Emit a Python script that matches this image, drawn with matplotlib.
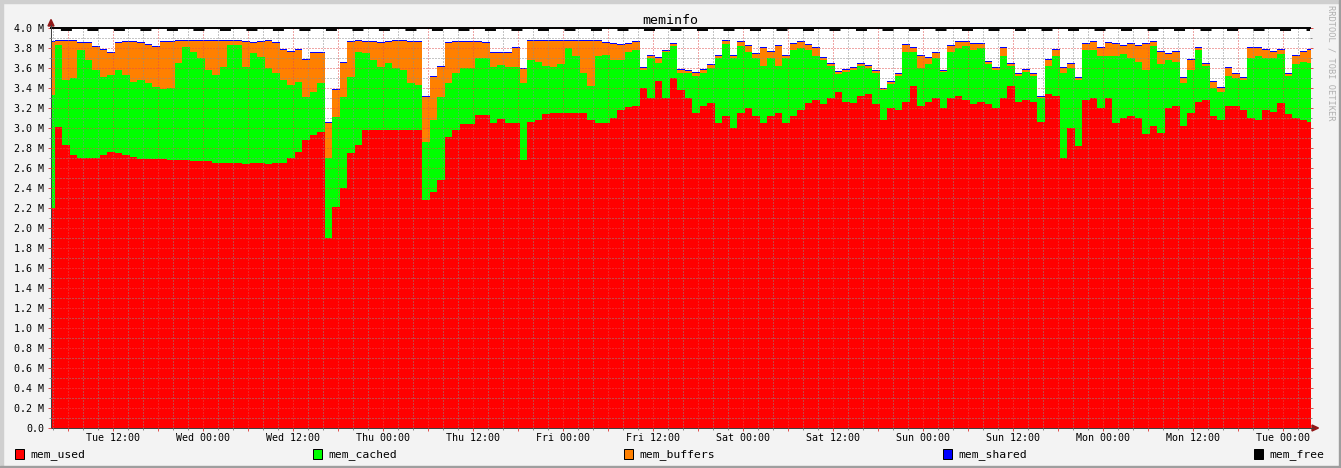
import numpy as np
import matplotlib
matplotlib.use("Agg")
import matplotlib.pyplot as plt
from matplotlib.ticker import MultipleLocator, FuncFormatter
from matplotlib.patches import Rectangle, Polygon
from matplotlib.lines import Line2D

plt.rcParams['font.family'] = 'DejaVu Sans Mono'

W, H = 1341, 468

# one sample per hour, hours counted from Tue 00:00
start_hour = 3.73

mem_used = [
    2.20, 3.01, 2.83, 2.73, 2.70, 2.70, 2.70, 2.73, 2.76, 2.75,
    2.73, 2.71, 2.69, 2.69, 2.69, 2.69, 2.68, 2.68, 2.68, 2.67,
    2.67, 2.67, 2.65, 2.65, 2.65, 2.65, 2.64, 2.65, 2.65, 2.64,
    2.65, 2.65, 2.70, 2.76, 2.88, 2.93, 2.96, 1.90, 2.21, 2.40,
    2.75, 2.83, 2.98, 2.98, 2.98, 2.98, 2.98, 2.98, 2.98, 2.98,
    2.28, 2.36, 2.48, 2.91, 2.98, 3.04, 3.04, 3.13, 3.13, 3.05,
    3.09, 3.05, 3.05, 2.68, 3.06, 3.08, 3.14, 3.15, 3.15, 3.15,
    3.15, 3.15, 3.08, 3.05, 3.05, 3.10, 3.18, 3.21, 3.22, 3.40,
    3.30, 3.47, 3.30, 3.50, 3.38, 3.30, 3.15, 3.22, 3.25, 3.05,
    3.12, 3.00, 3.15, 3.20, 3.12, 3.05, 3.12, 3.15, 3.05, 3.12,
    3.18, 3.25, 3.28, 3.24, 3.30, 3.36, 3.26, 3.25, 3.32, 3.34,
    3.24, 3.08, 3.20, 3.18, 3.26, 3.42, 3.22, 3.26, 3.30, 3.20,
    3.30, 3.32, 3.28, 3.24, 3.26, 3.24, 3.20, 3.30, 3.42, 3.26,
    3.28, 3.26, 3.06, 3.34, 3.32, 2.70, 3.00, 2.82, 3.28, 3.30,
    3.20, 3.30, 3.05, 3.10, 3.12, 3.10, 2.94, 3.02, 2.95, 3.20,
    3.22, 3.02, 3.15, 3.26, 3.28, 3.12, 3.08, 3.22, 3.22, 3.18,
    3.10, 3.08, 3.18, 3.16, 3.25, 3.14, 3.10, 3.08, 3.06,
]

# top of the green layer (used + cached)
top_cached = [
    3.33, 3.83, 3.48, 3.50, 3.78, 3.68, 3.58, 3.51, 3.53, 3.58,
    3.53, 3.46, 3.48, 3.45, 3.41, 3.39, 3.40, 3.65, 3.81, 3.76,
    3.70, 3.58, 3.53, 3.61, 3.83, 3.83, 3.61, 3.75, 3.71, 3.60,
    3.55, 3.48, 3.43, 3.46, 3.31, 3.36, 3.45, 2.70, 3.11, 3.31,
    3.51, 3.76, 3.75, 3.68, 3.61, 3.65, 3.60, 3.58, 3.45, 3.43,
    2.86, 3.08, 3.31, 3.45, 3.55, 3.60, 3.60, 3.70, 3.70, 3.61,
    3.63, 3.61, 3.61, 3.45, 3.68, 3.66, 3.62, 3.61, 3.64, 3.80,
    3.72, 3.55, 3.42, 3.72, 3.73, 3.68, 3.68, 3.76, 3.78, 3.58,
    3.70, 3.65, 3.76, 3.82, 3.55, 3.55, 3.52, 3.55, 3.60, 3.70,
    3.84, 3.70, 3.82, 3.76, 3.70, 3.62, 3.70, 3.62, 3.70, 3.78,
    3.80, 3.78, 3.72, 3.68, 3.62, 3.54, 3.56, 3.58, 3.62, 3.60,
    3.55, 3.38, 3.44, 3.52, 3.76, 3.76, 3.60, 3.64, 3.70, 3.56,
    3.76, 3.80, 3.82, 3.78, 3.80, 3.64, 3.58, 3.72, 3.62, 3.52,
    3.56, 3.52, 3.30, 3.62, 3.72, 3.55, 3.60, 3.48, 3.78, 3.78,
    3.72, 3.72, 3.72, 3.74, 3.70, 3.66, 3.58, 3.82, 3.64, 3.68,
    3.66, 3.45, 3.58, 3.78, 3.62, 3.40, 3.36, 3.52, 3.50, 3.48,
    3.70, 3.72, 3.70, 3.70, 3.74, 3.52, 3.64, 3.66, 3.65,
]

# top of the orange layer (used + cached + buffers)
top_buffers = [
    3.86, 3.87, 3.87, 3.87, 3.85, 3.85, 3.81, 3.78, 3.75, 3.85,
    3.86, 3.86, 3.85, 3.83, 3.81, 3.86, 3.86, 3.87, 3.87, 3.87,
    3.87, 3.87, 3.87, 3.87, 3.87, 3.87, 3.86, 3.85, 3.86, 3.87,
    3.85, 3.78, 3.76, 3.78, 3.68, 3.75, 3.75, 3.05, 3.38, 3.65,
    3.86, 3.87, 3.86, 3.86, 3.85, 3.86, 3.87, 3.87, 3.86, 3.86,
    3.31, 3.51, 3.61, 3.85, 3.86, 3.86, 3.86, 3.86, 3.85, 3.75,
    3.75, 3.75, 3.80, 3.59, 3.87, 3.87, 3.87, 3.87, 3.87, 3.87,
    3.87, 3.87, 3.87, 3.87, 3.85, 3.84, 3.83, 3.84, 3.86, 3.60,
    3.72, 3.70, 3.77, 3.84, 3.58, 3.57, 3.55, 3.58, 3.63, 3.72,
    3.87, 3.72, 3.86, 3.82, 3.74, 3.80, 3.76, 3.82, 3.72, 3.84,
    3.86, 3.83, 3.80, 3.70, 3.64, 3.56, 3.58, 3.60, 3.64, 3.62,
    3.57, 3.39, 3.46, 3.54, 3.83, 3.80, 3.72, 3.70, 3.75, 3.57,
    3.82, 3.86, 3.86, 3.84, 3.84, 3.66, 3.60, 3.80, 3.64, 3.54,
    3.58, 3.54, 3.31, 3.68, 3.78, 3.60, 3.64, 3.50, 3.84, 3.86,
    3.80, 3.85, 3.84, 3.82, 3.84, 3.82, 3.84, 3.86, 3.76, 3.74,
    3.76, 3.50, 3.68, 3.80, 3.64, 3.46, 3.40, 3.60, 3.54, 3.50,
    3.80, 3.80, 3.78, 3.76, 3.78, 3.54, 3.72, 3.76, 3.78,
]

mem_shared = [0.006] * len(mem_used)
mem_total = 4.0

tick_hours = [12, 24, 36, 48, 60, 72, 84, 96, 108, 120, 132, 144, 156, 168]
tick_labels = ["Tue 12:00", "Wed 00:00", "Wed 12:00", "Thu 00:00", "Thu 12:00",
               "Fri 00:00", "Fri 12:00", "Sat 00:00", "Sat 12:00", "Sun 00:00",
               "Sun 12:00", "Mon 00:00", "Mon 12:00", "Tue 00:00"]

legend_names = ["mem_used", "mem_cached", "mem_buffers", "mem_shared", "mem_free"]
legend_colors = ["#ff0000", "#00ff00", "#ff8000", "#0000ff", "#000000"]

used = np.array(mem_used)
cached = np.array(top_cached) - used
buffers = np.array(top_buffers) - np.array(top_cached)
shared = np.array(mem_shared)
hours = start_hour + np.arange(len(used))


def fx(x):
    return x / W


def fy(y):
    return 1 - y / H


fig = plt.figure(figsize=(W / 100, H / 100), dpi=100, facecolor='#f3f3f3')
ax = fig.add_axes([fx(51), 40 / H, 1259 / W, 400 / H])
ax.set_facecolor('white')
ax.set_xlim(start_hour, start_hour + 1259 / 7.5)
ax.set_ylim(0, mem_total)

base = np.zeros_like(used)
for vals, col in zip([used, cached, buffers, shared], legend_colors[:4]):
    ax.fill_between(hours, base, base + vals, step='mid', color=col,
                    lw=0, antialiased=False, zorder=1)
    base = base + vals

# mem_free edge at the top
ax.axhline(mem_total, color='black', lw=1.4, clip_on=False, zorder=4)
ax.axhline(3.978, color='black', lw=1.4, zorder=4,
           linestyle=(8.54, (5.66, 7.97)))

# grid
ax.set_axisbelow(False)
ax.xaxis.set_major_locator(MultipleLocator(6))
ax.xaxis.set_minor_locator(MultipleLocator(2))
ax.yaxis.set_major_locator(MultipleLocator(0.2))
ax.yaxis.set_minor_locator(MultipleLocator(0.1))
lab = dict(zip(tick_hours, tick_labels))
ax.xaxis.set_major_formatter(FuncFormatter(lambda v, p: lab.get(int(round(v)), "")))
ax.yaxis.set_major_formatter(FuncFormatter(lambda v, p: "0.0" if abs(v) < 1e-9 else "%.1f M" % v))
ax.grid(which='minor', color=(0.55, 0.55, 0.55, 0.5), linestyle=(0, (1, 2)), lw=0.72)
ax.grid(which='major', color=(0.88, 0.31, 0.31, 0.55), linestyle=(0, (1, 2)), lw=0.72)

ax.tick_params(axis='both', which='both', direction='out', labelsize=7.2, labelcolor='black')
ax.tick_params(axis='x', which='major', length=2.2, width=0.72, color='#e05050', pad=1.6)
ax.tick_params(axis='x', which='minor', length=1.5, width=0.72, color='#8c8c8c')
ax.tick_params(axis='y', which='major', length=2.2, width=0.72, color='#e05050', pad=2.8, right=True)
ax.tick_params(axis='y', which='minor', length=1.5, width=0.72, color='#8c8c8c', right=True)

for s in ['top', 'right']:
    ax.spines[s].set_visible(False)
for s in ['left', 'bottom']:
    ax.spines[s].set_color('#404040')
    ax.spines[s].set_linewidth(0.72)

# axis arrows
fig.add_artist(Line2D([fx(51), fx(51)], [fy(28), fy(25)], color='#404040', lw=0.72))
fig.add_artist(Line2D([fx(1310), fx(1313)], [fy(428), fy(428)], color='#404040', lw=0.72))
fig.add_artist(Polygon([(fx(48), fy(26)), (fx(54), fy(26)), (fx(51), fy(19.5))],
                       closed=True, color='#901818', transform=fig.transFigure))
fig.add_artist(Polygon([(fx(1312), fy(425)), (fx(1312), fy(431)), (fx(1318.5), fy(428))],
                       closed=True, color='#901818', transform=fig.transFigure))

fig.text(fx(670), fy(24), "meminfo", ha='center', va='baseline', fontsize=9.5)
fig.text(fx(1331), fy(5), "RRDTOOL / TOBI OETIKER", ha='center', va='top',
         rotation=270, fontsize=6.2, color='#b0b0b0')

# legend
legend_x = [15, 313, 624, 943, 1254]
for x, name, col in zip(legend_x, legend_names, legend_colors):
    fig.add_artist(Rectangle((fx(x), fy(459)), 9 / W, 10.5 / H, facecolor=col,
                             edgecolor='black', lw=0.72, transform=fig.transFigure))
    fig.text(fx(x + 15), fy(457.5), name, ha='left', va='baseline', fontsize=8.2)

# bevelled frame
fig.add_artist(Rectangle((0, fy(2.5)), 1, 2.5 / H, color='#cfcfcf', transform=fig.transFigure))
fig.add_artist(Rectangle((0, 0), 2.5 / W, 1, color='#cfcfcf', transform=fig.transFigure))
fig.add_artist(Rectangle((0, 0), 1, 2.5 / H, color='#9e9e9e', transform=fig.transFigure))
fig.add_artist(Rectangle((1 - 2.5 / W, 0), 2.5 / W, 1, color='#9e9e9e', transform=fig.transFigure))

fig.savefig("out.png", dpi=100, facecolor=fig.get_facecolor())
